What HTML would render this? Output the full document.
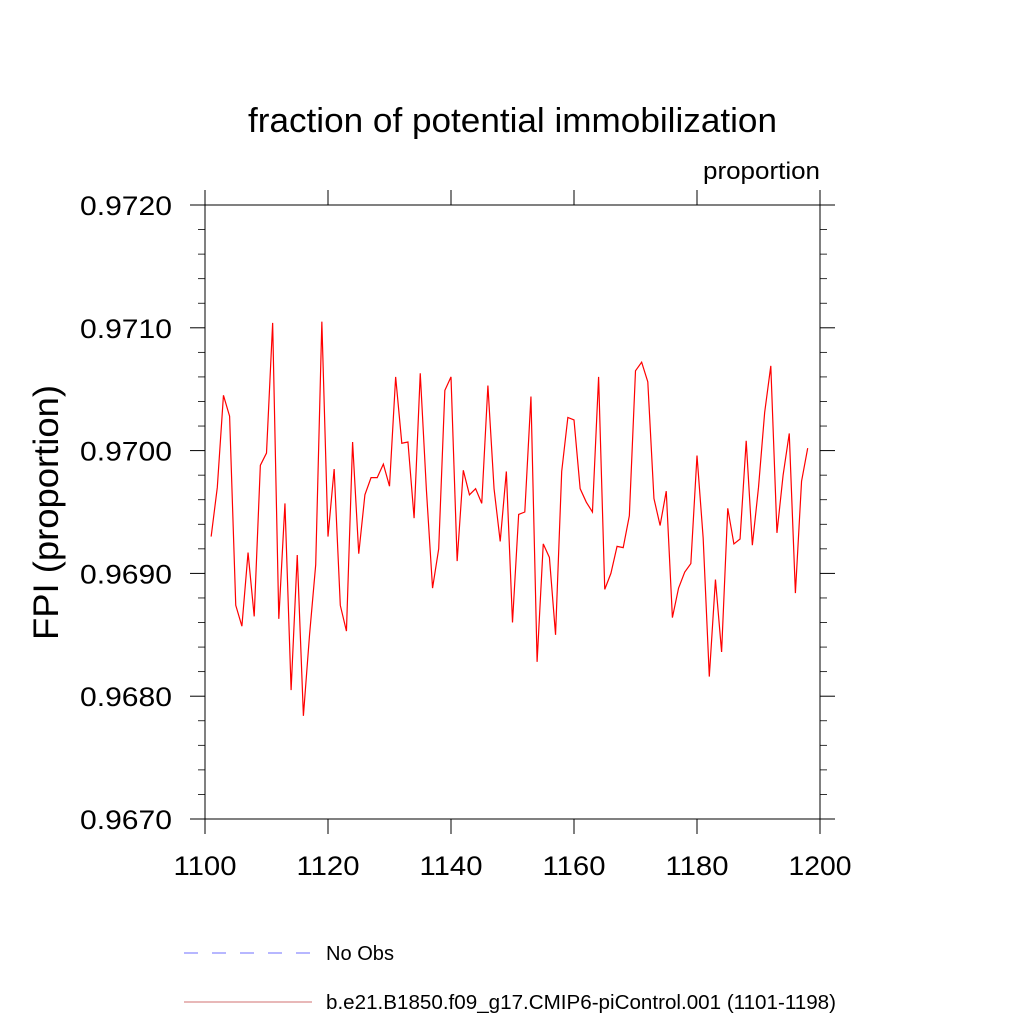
<!DOCTYPE html>
<html><head><meta charset="utf-8"><style>
body{margin:0;background:#fff;}
svg{display:block;font-family:"Liberation Sans",sans-serif;}
</style></head><body>
<svg id="chart" width="1024" height="1024" viewBox="0 0 1024 1024">
<text x="248" y="132" font-size="34" textLength="529" lengthAdjust="spacingAndGlyphs">fraction of potential immobilization</text>
<text x="703" y="179" font-size="24" textLength="117" lengthAdjust="spacingAndGlyphs">proportion</text>
<text transform="translate(58,640) rotate(-90)" font-size="35" textLength="255" lengthAdjust="spacingAndGlyphs">FPI  (proportion)</text>
<g id="axes"></g>
<polyline id="series" fill="none" stroke="#ff0000" stroke-width="1.2"/>
<g>
<line x1="184" y1="953" x2="312" y2="953" stroke="#6f6fff" stroke-width="1" stroke-dasharray="14,14"/>
<text x="326" y="960" font-size="20" textLength="68" lengthAdjust="spacingAndGlyphs">No Obs</text>
<line x1="184" y1="1002" x2="312" y2="1002" stroke="#d07070" stroke-width="1"/>
<text x="326" y="1009" font-size="20" textLength="510" lengthAdjust="spacingAndGlyphs">b.e21.B1850.f09_g17.CMIP6-piControl.001 (1101-1198)</text>
</g>
</svg>
<script>
const years = [];
for (let y = 1101; y <= 1198; y++) years.push(y);
const fpiValues = [0.96930,0.96970,0.97045,0.97028,0.96874,0.96857,0.96917,0.96865,0.96988,0.96998,
0.97104,0.96863,0.96957,0.96805,0.96915,0.96784,0.96850,0.96907,0.97105,0.96930,
0.96985,0.96874,0.96853,0.97007,0.96916,0.96964,0.96978,0.96978,0.96989,0.96971,
0.97060,0.97006,0.97007,0.96945,0.97063,0.96968,0.96888,0.96920,0.97049,0.97060,
0.96910,0.96984,0.96964,0.96969,0.96957,0.97053,0.96969,0.96926,0.96983,0.96860,
0.96948,0.96950,0.97044,0.96828,0.96924,0.96913,0.96850,0.96983,0.97027,0.97025,
0.96969,0.96958,0.96950,0.97060,0.96887,0.96900,0.96922,0.96921,0.96947,0.97065,
0.97072,0.97056,0.96961,0.96939,0.96967,0.96864,0.96888,0.96901,0.96908,0.96996,
0.96929,0.96816,0.96895,0.96836,0.96953,0.96924,0.96928,0.97008,0.96923,0.96970,
0.97031,0.97069,0.96933,0.96980,0.97014,0.96884,0.96975,0.97002];
const xTicks = [1100,1120,1140,1160,1180,1200];
const yTicks = [0.9670,0.9680,0.9690,0.9700,0.9710,0.9720];
const xMin=1100,xMax=1200,yMin=0.9670,yMax=0.9720;
const L=205,R=820,T=205,B=819;
const sx=v=>L+(v-xMin)/(xMax-xMin)*(R-L);
const sy=v=>B-(v-yMin)/(yMax-yMin)*(B-T);
const NS="http://www.w3.org/2000/svg";
const ax=document.getElementById('axes');
function ln(x1,y1,x2,y2,name,w){const e=document.createElementNS(NS,'line');
e.setAttribute('x1',x1);e.setAttribute('y1',y1);e.setAttribute('x2',x2);e.setAttribute('y2',y2);
e.setAttribute('stroke','#000');e.setAttribute('stroke-width',w||1);


ax.appendChild(e);}
function tx(x,y,s,anchor,name,len){const e=document.createElementNS(NS,'text');
e.setAttribute('x',x);e.setAttribute('y',y);e.setAttribute('font-size','27');e.setAttribute('text-anchor',anchor);
e.setAttribute('textLength',len);e.setAttribute('lengthAdjust','spacingAndGlyphs');e.textContent=s;


ax.appendChild(e);}
const fr=document.createElementNS(NS,'rect');
fr.setAttribute('x',L);fr.setAttribute('y',T);fr.setAttribute('width',R-L);fr.setAttribute('height',B-T);
fr.setAttribute('fill','none');fr.setAttribute('stroke','#000');fr.setAttribute('stroke-width','1');


ax.appendChild(fr);
xTicks.forEach(v=>{const x=sx(v);ln(x,B,x,B+15,'x-tick');ln(x,T,x,T-15,'x-tick-top');tx(x,B+56,String(v),'middle','x-tick-label',63);});
yTicks.forEach(v=>{const y=sy(v);ln(L-15,y,L,y,'y-tick');ln(R,y,R+15,y,'y-tick-right');tx(L-33,y+10,v.toFixed(4),'end','y-tick-label',92);});
for(let i=0;i<yTicks.length-1;i++){for(let k=1;k<5;k++){const v=yTicks[i]+k*0.0002;const y=sy(v);
ln(L-7,y,L,y,'y-minor-tick',0.8);ln(R,y,R+7,y,'y-minor-tick-right',0.8);}}
const pl=document.getElementById('series');
pl.setAttribute('points',years.map((y,i)=>sx(y).toFixed(2)+','+sy(fpiValues[i]).toFixed(2)).join(' '));
</script>
</body></html>
